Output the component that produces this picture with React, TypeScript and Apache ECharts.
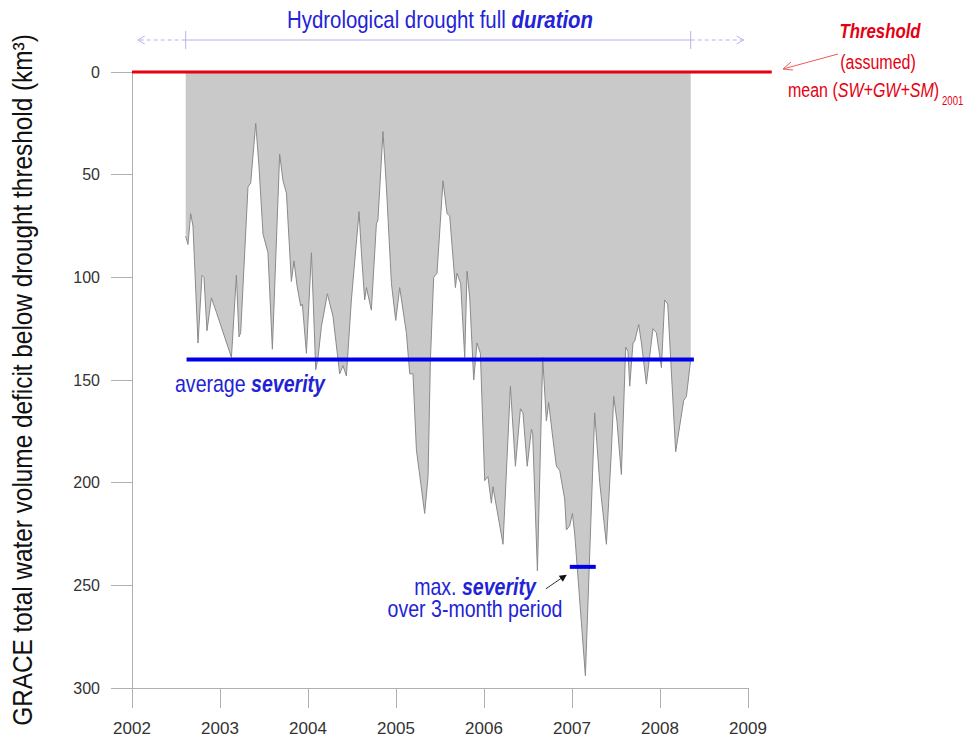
import React, { useEffect, useRef } from "react";
import * as echarts from "echarts";

// ---- data ----
const yearTicks = [2002, 2003, 2004, 2005, 2006, 2007, 2008, 2009];
const deficitYears = [
  2002.61, 2002.636, 2002.667, 2002.693, 2002.75, 2002.795, 2002.818, 2002.852, 2002.902, 2002.959,
  2003.13, 2003.186, 2003.216, 2003.235, 2003.318, 2003.349, 2003.406, 2003.443, 2003.489, 2003.545,
  2003.595, 2003.678, 2003.716, 2003.755, 2003.811, 2003.841, 2003.875, 2003.917, 2003.936, 2003.982,
  2004.039, 2004.088, 2004.114, 2004.152, 2004.22, 2004.284, 2004.36, 2004.398, 2004.436, 2004.493,
  2004.58, 2004.61, 2004.644, 2004.664, 2004.72, 2004.777, 2004.795, 2004.852, 2004.891, 2004.948,
  2004.997, 2005.042, 2005.118, 2005.156, 2005.193, 2005.232, 2005.326, 2005.364, 2005.391, 2005.428,
  2005.466, 2005.534, 2005.58, 2005.61, 2005.675, 2005.693, 2005.735, 2005.781, 2005.807, 2005.838,
  2005.883, 2005.92, 2005.959, 2006.008, 2006.045, 2006.084, 2006.102, 2006.216, 2006.3, 2006.357,
  2006.414, 2006.443, 2006.491, 2006.539, 2006.553, 2006.607, 2006.667, 2006.709, 2006.735, 2006.784,
  2006.823, 2006.86, 2006.917, 2006.936, 2006.974, 2007.005, 2007.031, 2007.152, 2007.258, 2007.315,
  2007.391, 2007.448, 2007.474, 2007.511, 2007.561, 2007.61, 2007.636, 2007.656, 2007.693, 2007.713,
  2007.758, 2007.789, 2007.845, 2007.92, 2007.959, 2008.016, 2008.053, 2008.088, 2008.178, 2008.269,
  2008.3, 2008.349,
];
const deficitValues = [
  80, 84, 69, 75, 132, 99, 100, 126, 110, 117,
  139, 99, 129, 127, 56, 54, 25, 46, 79, 88,
  135, 40, 53, 59, 102, 92, 104, 114, 113, 137,
  88, 145, 139, 124, 108, 119, 147, 143, 148, 111,
  68, 90, 111, 105, 116, 74, 72, 29, 56, 103,
  121, 105, 127, 147, 147, 184, 215, 197, 140, 100,
  98, 53, 69, 70, 105, 98, 103, 139, 97, 110,
  150, 132, 137, 199, 197, 210, 202, 230, 153, 192,
  164, 166, 192, 174, 176, 243, 139, 170, 161, 179,
  192, 194, 208, 223, 221, 215, 225, 294, 166, 200,
  230, 184, 158, 170, 196, 134, 136, 153, 132, 131,
  123, 132, 152, 125, 127, 144, 111, 113, 185, 160,
  158, 140,
];
const thresholdValue = 0;
const thresholdSpan = [2002, 2009.27];
const durationSpan = [2002.61, 2008.349];
const durationArrowTips = [2002.065, 2008.95];
const avgSeverity = 140;
const avgSeveritySpan = [2002.62, 2008.385];
const maxSeverity = 241;
const maxSeveritySpan = [2006.975, 2007.27];

const SANS = "'Liberation Sans', Arial, sans-serif";
const NX = 0.85; // horizontal condensing of the narrow annotation font
const BLUE_TEXT = "#2323d6";
const BLUE_LINE = "#0000e8";
const RED = "#e60012";

export default function App() {
  const ref = useRef<HTMLDivElement>(null);

  useEffect(() => {
    if (!ref.current) return;
    document.body.style.margin = "0";
    const chart = echarts.init(ref.current, undefined, { renderer: "svg" });
    const areaData = deficitYears.map((y, i) => [y, deficitValues[i]]);

    chart.setOption({
      animation: false,
      grid: { left: 132, right: 219, top: 72, bottom: 52 },
      xAxis: {
        type: "value",
        min: yearTicks[0],
        max: yearTicks[yearTicks.length - 1],
        interval: 1,
        axisLine: { onZero: false, lineStyle: { color: "#b0b0b0", width: 1 } },
        axisTick: { length: 20, lineStyle: { color: "#b0b0b0" } },
        axisLabel: {
          margin: 32,
          fontSize: 17,
          fontFamily: SANS,
          color: "#333",
          formatter: (v: number) => String(v),
        },
        splitLine: { show: false },
      },
      yAxis: {
        type: "value",
        inverse: true,
        min: 0,
        max: 300,
        interval: 50,
        axisLine: { show: true, lineStyle: { color: "#b0b0b0", width: 1 } },
        axisTick: { show: true, length: 21, lineStyle: { color: "#b0b0b0" } },
        axisLabel: { margin: 32, fontSize: 16, fontFamily: SANS, color: "#333" },
        splitLine: { show: false },
      },
      series: [
        {
          name: "deficit",
          type: "line",
          data: areaData,
          symbol: "none",
          lineStyle: { color: "#8a8a8a", width: 1 },
          areaStyle: { color: "#c9c9c9", opacity: 1 },
          z: 1,
        },
        {
          name: "average severity",
          type: "line",
          data: avgSeveritySpan.map((y) => [y, avgSeverity]),
          symbol: "none",
          lineStyle: { color: BLUE_LINE, width: 4 },
          z: 3,
        },
        {
          name: "max severity",
          type: "line",
          data: maxSeveritySpan.map((y) => [y, maxSeverity]),
          symbol: "none",
          lineStyle: { color: BLUE_LINE, width: 4 },
          z: 3,
        },
      ],
    });

    const px = (x: number, y: number) =>
      chart.convertToPixel({ xAxisIndex: 0, yAxisIndex: 0 }, [x, y]) as number[];

    const [ds] = px(durationSpan[0], 0);
    const [de] = px(durationSpan[1], 0);
    const [tl] = px(durationArrowTips[0], 0);
    const [tr] = px(durationArrowTips[1], 0);
    const [r1x, r1y] = px(thresholdSpan[0], thresholdValue);
    const [r2x, r2y] = px(thresholdSpan[1], thresholdValue);
    const ly = 40;
    const light = "#b4b4ee";
    const [mx, my] = px(maxSeveritySpan[0], maxSeverity);

    const txt = (x: number, y: number, style: any, extra: any = {}) => ({
      type: "text",
      x,
      y,
      scaleX: NX,
      z: 100,
      style: { fontFamily: SANS, verticalAlign: "middle", ...style },
      ...extra,
    });
    const richBlue = (size: number) => ({
      n: { fontSize: size, fontFamily: SANS, fill: BLUE_TEXT },
      b: { fontSize: size, fontFamily: SANS, fill: BLUE_TEXT, fontWeight: "bold", fontStyle: "italic" },
    });

    chart.setOption({
      graphic: [
        // threshold line (data value 0, extends past the axis end)
        { type: "line", z: 100, shape: { x1: r1x, y1: r1y, x2: r2x, y2: r2y }, style: { stroke: RED, lineWidth: 3 } },
        { type: "line", shape: { x1: ds, y1: ly, x2: de, y2: ly }, style: { stroke: light, lineWidth: 1 } },
        { type: "line", shape: { x1: ds, y1: ly - 9, x2: ds, y2: ly + 9 }, style: { stroke: light, lineWidth: 1 } },
        { type: "line", shape: { x1: de, y1: ly - 9, x2: de, y2: ly + 9 }, style: { stroke: light, lineWidth: 1 } },
        { type: "line", shape: { x1: ds, y1: ly, x2: tl, y2: ly }, style: { stroke: light, lineWidth: 1, lineDash: [4, 3] } },
        { type: "line", shape: { x1: de, y1: ly, x2: tr, y2: ly }, style: { stroke: light, lineWidth: 1, lineDash: [4, 3] } },
        { type: "polyline", shape: { points: [[tl + 7, ly - 4], [tl, ly], [tl + 7, ly + 4]] }, style: { stroke: light, lineWidth: 1, fill: "none" } },
        { type: "polyline", shape: { points: [[tr - 7, ly - 4], [tr, ly], [tr - 7, ly + 4]] }, style: { stroke: light, lineWidth: 1, fill: "none" } },
        txt(440, 20, {
          text: "{n|Hydrological drought full }{b|duration}",
          align: "center",
          rich: richBlue(24),
        }),
        // y-axis title
        txt(22, 380, {
          text: "GRACE total water volume deficit below drought threshold (km³)",
          align: "center",
          fontSize: 28,
          fill: "#111",
        }, { rotation: Math.PI / 2, scaleX: 0.87 }),
        // threshold annotation
        txt(880, 31, { text: "Threshold", align: "center", fontSize: 21, fontWeight: "bold", fontStyle: "italic", fill: RED }, { scaleX: 0.8 }),
        txt(878, 62, { text: "(assumed)", align: "center", fontSize: 20, fill: RED }, { scaleX: 0.8 }),
        txt(788, 90, {
          text: "{n|mean (}{i|SW+GW+SM}{n|)}",
          align: "left",
          rich: {
            n: { fontSize: 20, fontFamily: SANS, fill: RED },
            i: { fontSize: 20, fontFamily: SANS, fill: RED, fontStyle: "italic" },
          },
        }, { scaleX: 0.8 }),
        txt(942, 101, { text: "2001", align: "left", fontSize: 12, fill: RED }, { scaleX: 0.8 }),
        { type: "line", shape: { x1: 838, y1: 54, x2: 783, y2: 69 }, style: { stroke: "#ee5a5a", lineWidth: 1 } },
        { type: "polyline", shape: { points: [[791, 62], [783, 69], [793, 70]] }, style: { stroke: "#ee5a5a", lineWidth: 1, fill: "none" } },
        // average severity label
        txt(175, 384, { text: "{n|average }{b|severity}", align: "left", rich: richBlue(23) }),
        // max severity label
        txt(475, 587, { text: "{n|max. }{b|severity}", align: "center", rich: richBlue(23) }),
        txt(475, 609, { text: "over 3-month period", align: "center", fontSize: 23, fill: BLUE_TEXT }),
        { type: "line", shape: { x1: mx - 24, y1: my + 22, x2: mx - 5, y2: my + 9 }, style: { stroke: "#333", lineWidth: 1 } },
        { type: "polygon", shape: { points: [[mx - 3, my + 8], [mx - 11, my + 9], [mx - 7, my + 15]] }, style: { fill: "#111" } },
      ],
    });

    return () => chart.dispose();
  }, []);

  return <div ref={ref} style={{ width: 967, height: 740 }} />;
}
